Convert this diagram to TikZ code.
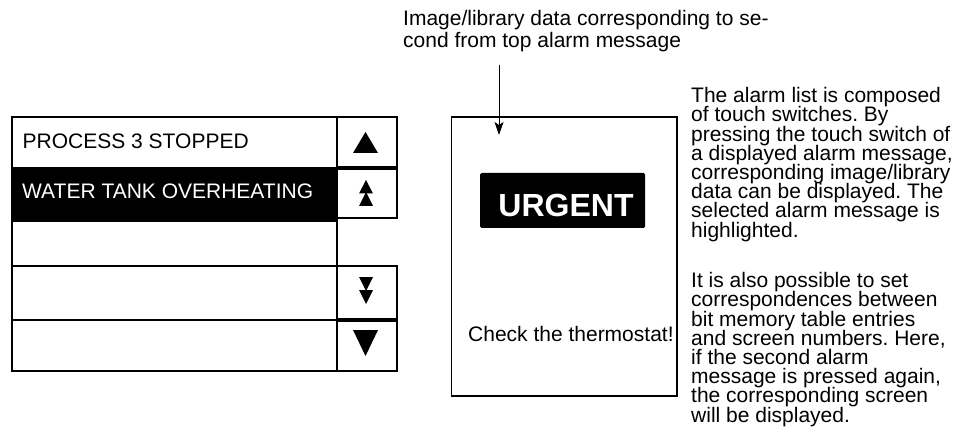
\documentclass[tikz,border=0pt]{standalone}
\usepackage{fontspec}
\setmainfont{Liberation Sans}
\usetikzlibrary{arrows.meta}
\frenchspacing
\begin{document}
\begin{tikzpicture}[x=1pt,y=-1pt,
  frame/.style={draw=black, line width=1.6pt},
  txt/.style={anchor=base west, inner sep=0pt, font=\fontsize{21}{19.2}\selectfont},
  tri/.style={fill=black}]
\useasboundingbox (0,0) rectangle (979,438);

% ---- left alarm list ----
\fill[black] (12,167) rectangle (337,221);
\draw[frame] (12,117) rectangle (337,371);
\draw[frame] (12,221) -- (337,221);
\draw[frame] (12,266) -- (337,266);
\draw[frame] (12,320) -- (337,320);
\node[txt] (l1) at (22.5,148.3) {PROCESS 3 STOPPED};
\node[txt, text=white] (l2) at (22,198.5) {WATER TANK OVERHEATING};

% buttons
\draw[frame] (337,117) rectangle (397,167);
\draw[frame] (337,169) rectangle (397,218);
\draw[frame] (337,266) rectangle (397,319);
\draw[frame] (337,321) rectangle (397,371);
\fill[tri] (353,153) -- (378,153) -- (365.5,132) -- cycle;
\fill[tri] (359,193.5) -- (373,193.5) -- (366,180) -- cycle;
\fill[tri] (359,206) -- (373,206) -- (366,192) -- cycle;
\fill[tri] (359,277) -- (373,277) -- (366,291) -- cycle;
\fill[tri] (359,290) -- (373,290) -- (366,304) -- cycle;
\fill[tri] (353,330) -- (378,330) -- (365.5,356) -- cycle;

% ---- middle screen ----
\draw[frame] (451.5,117) rectangle (677,396);
\node[fill=black, rounded corners=1.5pt, minimum width=165pt, minimum height=55pt, inner sep=0pt] (ubox) at (562.5,200.5) {};
\node[anchor=base, inner sep=0pt, text=white, font=\fontsize{32}{36}\selectfont\bfseries] (urgent) at (566,216.7) {URGENT};
\node[txt] (check) at (468,341.7) {Check the thermostat!};

% ---- top caption and arrow ----
\node[txt] (cap1) at (403,26) {Image/library data corresponding to se-};
\node[txt] (cap2) at (403,47.7) {cond from top alarm message};
\coordinate (as) at (499,65);
\coordinate (ae) at (499,135);
\draw[line width=1pt, -{Stealth[length=13pt,width=9pt,inset=3pt]}] (as) -- (ae);

% ---- right description ----
\foreach \t [count=\i] in {The alarm list is composed, of touch switches. By,
  pressing the touch switch of, {a displayed alarm message,},
  corresponding image/library, data can be displayed. The,
  selected alarm message is, highlighted.}
  \node[txt] (pa\i) at (691,{102.7+19.2*(\i-1)}) {\t};
\foreach \t [count=\i] in {It is also possible to set, correspondences between,
  bit memory table entries, {and screen numbers. Here,},
  if the second alarm, {message is pressed again,},
  the corresponding screen, will be displayed.}
  \node[txt] (pb\i) at (691,{287.7+19.2*(\i-1)}) {\t};
\end{tikzpicture}
\end{document}
